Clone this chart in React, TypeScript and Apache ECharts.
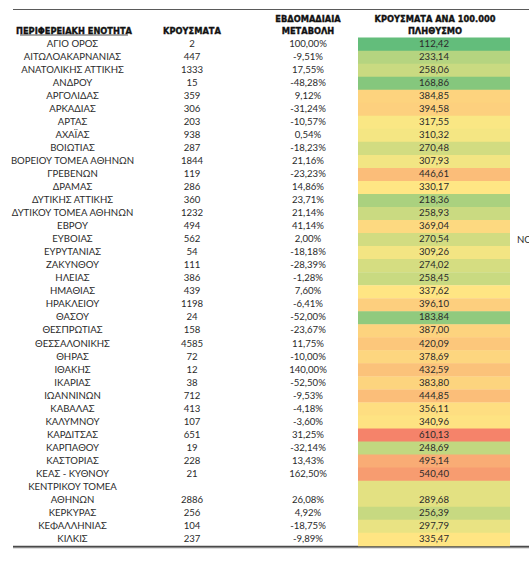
import React, { useEffect, useRef } from "react";
import * as echarts from "echarts";

const regions = [
  "ΑΓΙΟ ΟΡΟΣ", "ΑΙΤΩΛΟΑΚΑΡΝΑΝΙΑΣ", "ΑΝΑΤΟΛΙΚΗΣ ΑΤΤΙΚΗΣ", "ΑΝΔΡΟΥ", "ΑΡΓΟΛΙΔΑΣ",
  "ΑΡΚΑΔΙΑΣ", "ΑΡΤΑΣ", "ΑΧΑΪΑΣ", "ΒΟΙΩΤΙΑΣ", "ΒΟΡΕΙΟΥ ΤΟΜΕΑ ΑΘΗΝΩΝ",
  "ΓΡΕΒΕΝΩΝ", "ΔΡΑΜΑΣ", "ΔΥΤΙΚΗΣ ΑΤΤΙΚΗΣ", "ΔΥΤΙΚΟΥ ΤΟΜΕΑ ΑΘΗΝΩΝ", "ΕΒΡΟΥ",
  "ΕΥΒΟΙΑΣ", "ΕΥΡΥΤΑΝΙΑΣ", "ΖΑΚΥΝΘΟΥ", "ΗΛΕΙΑΣ", "ΗΜΑΘΙΑΣ",
  "ΗΡΑΚΛΕΙΟΥ", "ΘΑΣΟΥ", "ΘΕΣΠΡΩΤΙΑΣ", "ΘΕΣΣΑΛΟΝΙΚΗΣ", "ΘΗΡΑΣ",
  "ΙΘΑΚΗΣ", "ΙΚΑΡΙΑΣ", "ΙΩΑΝΝΙΝΩΝ", "ΚΑΒΑΛΑΣ", "ΚΑΛΥΜΝΟΥ",
  "ΚΑΡΔΙΤΣΑΣ", "ΚΑΡΠΑΘΟΥ", "ΚΑΣΤΟΡΙΑΣ", "ΚΕΑΣ - ΚΥΘΝΟΥ", "ΚΕΝΤΡΙΚΟΥ ΤΟΜΕΑ\nΑΘΗΝΩΝ",
  "ΚΕΡΚΥΡΑΣ", "ΚΕΦΑΛΛΗΝΙΑΣ", "ΚΙΛΚΙΣ",
];

const cases = [
  2, 447, 1333, 15, 359, 306, 203, 938, 287, 1844,
  119, 286, 360, 1232, 494, 562, 54, 111, 386, 439,
  1198, 24, 158, 4585, 72, 12, 38, 712, 413, 107,
  651, 19, 228, 21, 2886, 256, 104, 237,
];

const weeklyChange = [
  100.0, -9.51, 17.55, -48.28, 9.12, -31.24, -10.57, 0.54, -18.23, 21.16,
  -23.23, 14.86, 23.71, 21.14, 41.14, 2.0, -18.18, -28.39, -1.28, 7.6,
  -6.41, -52.0, -23.67, 11.75, -10.0, 140.0, -52.5, -9.53, -4.18, -3.6,
  31.25, -32.14, 13.43, 162.5, 26.08, 4.92, -18.75, -9.89,
];

const ratePer100k = [
  112.42, 233.14, 258.06, 168.86, 384.85, 394.58, 317.55, 310.32, 270.48, 307.93,
  446.61, 330.17, 218.36, 258.93, 369.04, 270.54, 309.26, 274.02, 258.45, 337.62,
  396.1, 183.84, 387.0, 420.09, 378.69, 432.59, 383.8, 444.85, 356.11, 340.96,
  610.13, 248.69, 495.14, 540.4, 289.68, 256.39, 297.79, 335.47,
];

const headers = [
  "ΠΕΡΙΦΕΡΕΙΑΚΗ ΕΝΟΤΗΤΑ",
  "ΚΡΟΥΣΜΑΤΑ",
  "ΕΒΔΟΜΑΔΙΑΙΑ\nΜΕΤΑΒΟΛΗ",
  "ΚΡΟΥΣΜΑΤΑ ΑΝΑ 100.000\nΠΛΗΘΥΣΜΟ",
];

// layout (pixels)
const W = 529;
const H = 572;
const COL_NAME = 72.5;
const COL_CASES = 192;
const COL_CHANGE = 308;
const RATE_L = 358;
const RATE_R = 510;
const GRID_TOP = 37.6;
const GRID_BOTTOM = 545.8;

const fmt = (v: number) => v.toFixed(2).replace(".", ",");

function hexToRgb(h: string) {
  return [parseInt(h.slice(1, 3), 16), parseInt(h.slice(3, 5), 16), parseInt(h.slice(5, 7), 16)];
}
function mix(a: string, b: string, t: number) {
  const ca = hexToRgb(a), cb = hexToRgb(b);
  const c = ca.map((x, i) => Math.round(x + (cb[i] - x) * t));
  return "rgb(" + c.join(",") + ")";
}

export default function App() {
  const ref = useRef<HTMLDivElement>(null);
  useEffect(() => {
    if (!ref.current) return;
    const chart = echarts.init(ref.current, null, { renderer: "svg" });

    const rows: number[][] = [];
    let acc = 0;
    regions.forEach((r, i) => {
      const span = r.split("\n").length;
      rows.push([acc, span, ratePer100k[i], i]);
      acc += span;
    });
    const totalUnits = acc;

    const vmin = Math.min(...ratePer100k);
    const vmax = Math.max(...ratePer100k);
    const sorted = [...ratePer100k].sort((a, b) => a - b);
    const n = sorted.length;
    const mid = n % 2 ? sorted[(n - 1) / 2] : (sorted[n / 2 - 1] + sorted[n / 2]) / 2;
    const GREEN = "#63BD7B", YELLOW = "#FFE984", RED = "#F5836A";
    const stops: string[] = [];
    const NS = 60;
    for (let k = 0; k <= NS; k++) {
      const v = vmin + ((vmax - vmin) * k) / NS;
      stops.push(
        v <= mid
          ? mix(GREEN, YELLOW, Math.pow((v - vmin) / (mid - vmin), 1.15))
          : mix(YELLOW, RED, (v - mid) / (vmax - mid))
      );
    }

    const bodyFont = "Lato, 'Liberation Sans', sans-serif";
    const headFont = "'Liberation Sans Narrow', 'DejaVu Sans Condensed', sans-serif";
    const textColor = "#2b2b2b";
    const headStyle = {
      font: "bold 9.2px " + headFont,
      fill: "#111",
      stroke: "#111",
      lineWidth: 0.35,
      align: "center",
      verticalAlign: "middle",
    };

    chart.setOption({
      animation: false,
      grid: { left: 0, right: 0, top: GRID_TOP, bottom: H - GRID_BOTTOM },
      xAxis: { type: "value", min: 0, max: W, show: false },
      yAxis: { type: "value", min: 0, max: totalUnits, inverse: true, show: false },
      visualMap: {
        show: false,
        type: "continuous",
        dimension: 2,
        seriesIndex: 0,
        min: vmin,
        max: vmax,
        inRange: { color: stops },
      },
      series: [
        {
          type: "custom",
          data: rows,
          clip: false,
          renderItem: (params: any, api: any) => {
            const start = api.value(0);
            const span = api.value(1);
            const idx = api.value(3);
            const y0 = api.coord([0, start])[1];
            const y1 = api.coord([0, start + span])[1];
            const unitH = (y1 - y0) / span;
            const lastCenter = y1 - unitH / 2 - 0.8;
            const xl = api.coord([RATE_L, 0])[0];
            const xr = api.coord([RATE_R, 0])[0];
            const txt = (x: number, y: number, s: string) => ({
              type: "text",
              x,
              y,
              style: {
                text: s,
                fill: textColor,
                font: "9.6px " + bodyFont,
                align: "center",
                verticalAlign: "middle",
              },
            });
            const lines = regions[idx].split("\n");
            const nameEls = lines.map((l, j) =>
              txt(api.coord([COL_NAME, 0])[0], y0 + unitH * (j + 0.5) - 0.8, l)
            );
            return {
              type: "group",
              children: [
                {
                  type: "rect",
                  shape: { x: xl, y: y0, width: xr - xl, height: y1 - y0 + 0.4 },
                  style: { fill: api.visual("color") },
                },
                ...nameEls,
                txt(api.coord([COL_CASES, 0])[0], lastCenter, String(cases[idx])),
                txt(api.coord([COL_CHANGE, 0])[0], lastCenter, fmt(weeklyChange[idx]) + "%"),
                txt((xl + xr) / 2, lastCenter, fmt(ratePer100k[idx])),
              ],
            };
          },
        },
      ],
      graphic: [
        { type: "line", shape: { x1: 13, y1: 9.5, x2: W, y2: 9.5 }, style: { stroke: "#5a5a5a", lineWidth: 1.2 } },
        { type: "line", shape: { x1: 13, y1: 546.8, x2: W, y2: 546.8 }, style: { stroke: "#4a4a4a", lineWidth: 2 } },
        { type: "line", shape: { x1: 13, y1: 548.3, x2: W, y2: 548.3 }, style: { stroke: "#d8d8d8", lineWidth: 1 } },
        { type: "text", x: 74, y: 30.5, style: { text: headers[0], ...headStyle } },
        { type: "line", shape: { x1: 20, y1: 35, x2: 128, y2: 35 }, style: { stroke: "#222", lineWidth: 0.8 } },
        { type: "text", x: 192, y: 30.5, style: { text: headers[1], ...headStyle } },
        { type: "text", x: 308, y: 24.5, style: { text: headers[2], lineHeight: 12, ...headStyle } },
        { type: "text", x: 435, y: 24.5, style: { text: headers[3], lineHeight: 12, ...headStyle } },
        {
          type: "text", x: 517, y: 239.5,
          style: { text: "NO", font: "9.6px " + bodyFont, fill: textColor, align: "left", verticalAlign: "middle" },
        },
      ],
    });
    return () => chart.dispose();
  }, []);
  return (
    <div
      ref={ref}
      style={{ position: "fixed", left: 0, top: 0, width: W, height: H, background: "#fff" }}
    />
  );
}
